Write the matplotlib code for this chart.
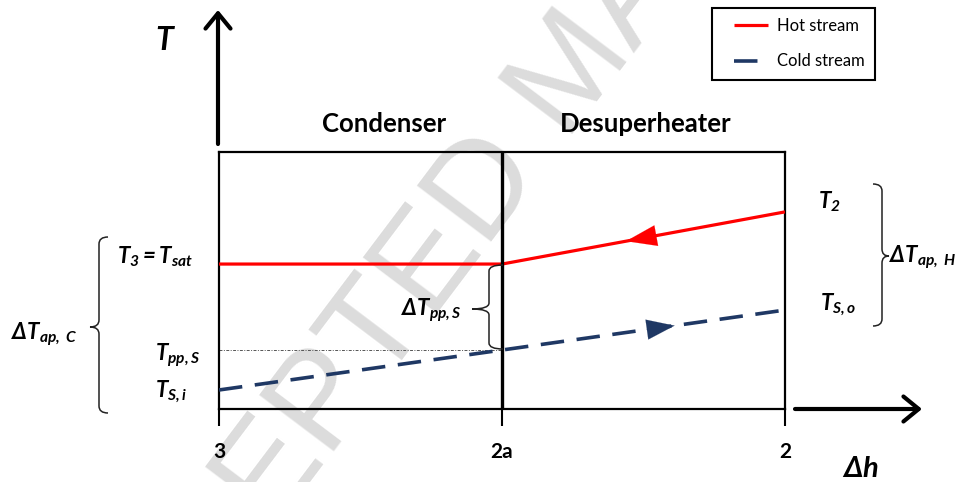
import numpy as np
import matplotlib
matplotlib.use("Agg")
import matplotlib.pyplot as plt
from matplotlib.path import Path
from matplotlib.patches import PathPatch
from matplotlib.legend_handler import HandlerLine2D

plt.rcParams['font.family'] = ['Lato', 'DejaVu Sans']
plt.rcParams['mathtext.fontset'] = 'custom'
plt.rcParams['mathtext.it'] = 'Lato:italic:bold'
plt.rcParams['mathtext.rm'] = 'Lato:italic:bold'
plt.rcParams['mathtext.bf'] = 'Lato:italic:bold'
plt.rcParams['mathtext.fallback'] = 'stixsans'

# ---------------- data ----------------
stations = [0, 1, 2]
station_labels = ['3', '2a', '2']
hot_T = [56.4, 56.4, 76.7]           # hot stream temperature at 3, 2a, 2
cold_x = [0, 2]
cold_T = [7.4, 38.5]                 # cold stream inlet / outlet
section_names = ['Condenser', 'Desuperheater']
legend_labels = ['Hot stream', 'Cold stream']

W, H = 967, 482
fig = plt.figure(figsize=(W / 100, H / 100), dpi=100)

def fx(x):
    return x / W

def fy(y):
    return 1 - y / H

# watermark (behind everything)
fig.text(fx(574), fy(74), 'ACCEPTED MANUSCRIPT', rotation=53, fontsize=97,
         color='#dcdcdc', ha='center', va='center', family='Liberation Sans',
         zorder=-5)

ax = fig.add_axes([fx(219), fy(409), 566 / W, 257 / H])
ax.set_facecolor('none')
ax.set_xlim(0, 2)
ax.set_ylim(0, 100)
for s in ax.spines.values():
    s.set_linewidth(1.6)
    s.set_color('black')

hot_line, = ax.plot(stations, hot_T, color='#ff0000', lw=2.3, zorder=3,
                    solid_capstyle='butt')
cold_line, = ax.plot(cold_x, cold_T, color='#1f3864', lw=2.6, zorder=3,
                     dashes=(6.5, 3.5))
ax.axvline(1, color='black', lw=2.4, zorder=4)

t_pp = np.interp(1, cold_x, cold_T)
ax.plot([0, 1], [t_pp, t_pp], color='#555555', lw=0.7, ls=(0, (3, 1.5, 1, 1.5)),
        zorder=2)

# direction arrows on the streams
def hot_at(x):
    return np.interp(x, stations, hot_T)

def cold_at(x):
    return np.interp(x, cold_x, cold_T)

ax.annotate('', xy=(1.438, hot_at(1.438)), xytext=(1.545, hot_at(1.545)),
            arrowprops=dict(arrowstyle='-|>,head_length=2.2,head_width=0.75',
                            mutation_scale=10, color='#ff0000', lw=0.1,
                            shrinkA=0, shrinkB=0), zorder=5)
ax.annotate('', xy=(1.61, cold_at(1.61)), xytext=(1.51, cold_at(1.51)),
            arrowprops=dict(arrowstyle='-|>,head_length=2.0,head_width=0.72',
                            mutation_scale=10, color='#1f3864', lw=0.1,
                            shrinkA=0, shrinkB=0), zorder=5)

ax.set_xticks(stations, station_labels)
ax.set_yticks([])
ax.tick_params(axis='x', direction='out', length=12, width=1.5, pad=12,
               labelsize=15)
for t in ax.get_xticklabels():
    t.set_fontweight('bold')


class ShiftedLine(HandlerLine2D):
    def get_xdata(self, legend, xdescent, ydescent, width, height, fontsize):
        x = np.array([-xdescent + width * 0.26, -xdescent + width])
        return x, x


leg = ax.legend([hot_line, cold_line], legend_labels, loc='upper right',
                bbox_to_anchor=(fx(875), fy(8)), bbox_transform=fig.transFigure,
                fancybox=False, framealpha=1, edgecolor='black', fontsize=12,
                handlelength=2.75, handletextpad=0.55, labelspacing=1.15,
                borderpad=0.62, borderaxespad=0,
                handler_map={hot_line: ShiftedLine(), cold_line: ShiftedLine()})
leg.get_frame().set_linewidth(1.5)

# overlay in pixel coordinates for annotations
ov = fig.add_axes([0, 0, 1, 1], zorder=10)
ov.set_xlim(0, W)
ov.set_ylim(H, 0)
ov.axis('off')
ov.patch.set_alpha(0)

def brace(x_end, x_stem, x_tip, y0, y1, ym, r=7, lw=1.1):
    verts = [(x_end, y0), (x_stem, y0), (x_stem, y0 + r),
             (x_stem, ym - r), (x_stem, ym), (x_tip, ym),
             (x_stem, ym), (x_stem, ym + r),
             (x_stem, y1 - r), (x_stem, y1), (x_end, y1)]
    codes = [Path.MOVETO, Path.CURVE3, Path.CURVE3,
             Path.LINETO, Path.CURVE3, Path.CURVE3,
             Path.CURVE3, Path.CURVE3,
             Path.LINETO, Path.CURVE3, Path.CURVE3]
    ov.add_patch(PathPatch(Path(verts, codes), fill=False, lw=lw,
                           edgecolor='#222222'))

brace(108, 99, 90, 237, 413, 327)
brace(873, 882, 889, 184, 326, 256)
brace(503, 489, 472, 265, 349, 309, r=6)

# axis arrows
arrow_kw = dict(arrowstyle='->,head_length=0.55,head_width=0.45',
                mutation_scale=20, lw=3, color='black', shrinkA=0, shrinkB=0)
ov.annotate('', xy=(218, 10), xytext=(218, 144), arrowprops=arrow_kw)
ov.annotate('', xy=(922, 409), xytext=(795, 409), arrowprops=arrow_kw)

# section titles
ov.text(384, 132, section_names[0], ha='center', va='baseline', fontsize=18.5,
        fontweight='bold')
ov.text(646, 132, section_names[1], ha='center', va='baseline', fontsize=18.5,
        fontweight='bold')

# labels
fs = 16
ov.text(155, 50, r'$T$', fontsize=23, ha='left', va='baseline')
ov.text(842, 477, r'$\Delta h$', fontsize=21, ha='left', va='baseline')
ov.text(117, 263, r'$T_3 = T_{sat}$', fontsize=fs, ha='left', va='baseline')
ov.text(155, 360, r'$T_{pp,S}$', fontsize=fs, ha='left', va='baseline')
ov.text(155, 397, r'$T_{S,i}$', fontsize=fs, ha='left', va='baseline')
ov.text(11, 339, r'$\Delta T_{ap,\ C}$', fontsize=fs, ha='left', va='baseline')
ov.text(818, 208, r'$T_2$', fontsize=fs, ha='left', va='baseline')
ov.text(820, 310, r'$T_{S,o}$', fontsize=fs, ha='left', va='baseline')
ov.text(889, 262, r'$\Delta T_{ap,\ H}$', fontsize=fs, ha='left', va='baseline')
ov.text(401, 315, r'$\Delta T_{pp,S}$', fontsize=fs, ha='left', va='baseline')

fig.savefig('out.png', dpi=100, facecolor='white')
